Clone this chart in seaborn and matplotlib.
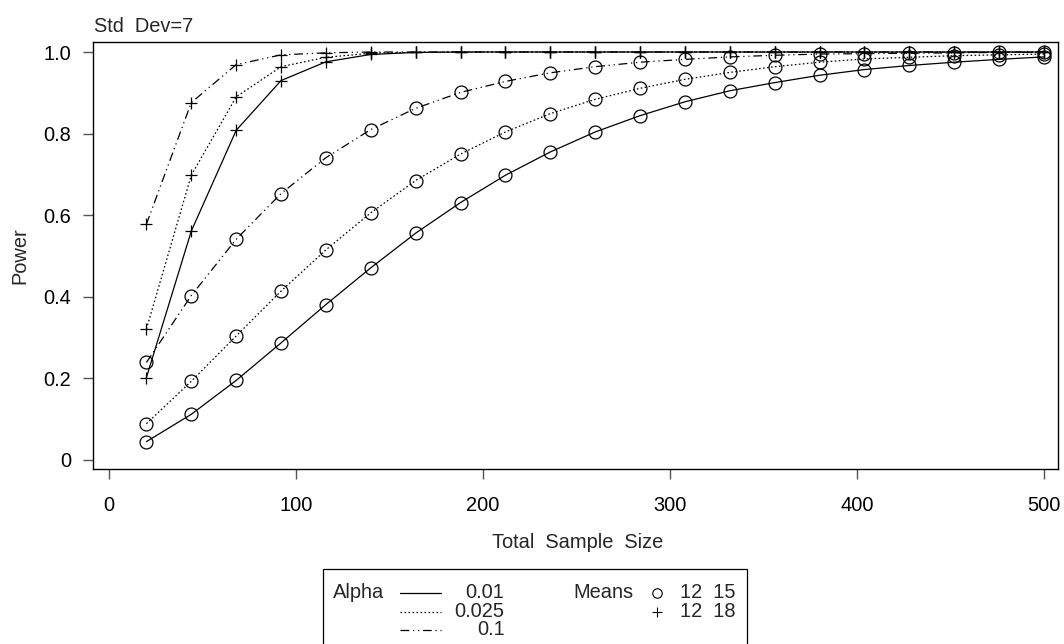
import matplotlib
matplotlib.use("Agg")
import matplotlib.pyplot as plt
import seaborn as sns
import pandas as pd
from matplotlib.lines import Line2D
from matplotlib.patches import Rectangle

# ---------------- data ----------------
sample_size = [20, 44, 68, 92, 116, 140, 164, 188, 212, 236, 260,
               284, 308, 332, 356, 380, 404, 428, 452, 476, 500]
alpha_levels = ["0.01", "0.025", "0.1"]
means_groups = ["12 15", "12 18"]

power_1215_a001 = [0.045, 0.112, 0.195, 0.287, 0.381, 0.471, 0.556, 0.631, 0.698, 0.755, 0.804,
                   0.844, 0.878, 0.905, 0.925, 0.943, 0.957, 0.967, 0.975, 0.982, 0.988]
power_1215_a0025 = [0.089, 0.193, 0.304, 0.414, 0.515, 0.606, 0.685, 0.750, 0.804, 0.849, 0.884,
                    0.911, 0.933, 0.950, 0.964, 0.975, 0.983, 0.987, 0.991, 0.993, 0.995]
power_1215_a010 = [0.239, 0.403, 0.541, 0.653, 0.741, 0.810, 0.862, 0.901, 0.928, 0.949, 0.964,
                   0.975, 0.982, 0.988, 0.992, 0.995, 0.996, 0.997, 0.998, 0.999, 0.999]
power_1218_a001 = [0.202, 0.561, 0.808, 0.930, 0.976, 0.994, 0.999, 1.000, 1.000, 1.000, 1.000,
                   1.000, 1.000, 1.000, 1.000, 1.000, 1.000, 1.000, 1.000, 1.000, 1.000]
power_1218_a0025 = [0.321, 0.698, 0.890, 0.964, 0.987, 0.997, 0.999, 1.000, 1.000, 1.000, 1.000,
                    1.000, 1.000, 1.000, 1.000, 1.000, 1.000, 1.000, 1.000, 1.000, 1.000]
power_1218_a010 = [0.578, 0.876, 0.969, 0.993, 0.998, 1.000, 1.000, 1.000, 1.000, 1.000, 1.000,
                   1.000, 1.000, 1.000, 1.000, 1.000, 1.000, 1.000, 1.000, 1.000, 1.000]

series = {
    ("12 15", "0.01"): power_1215_a001,
    ("12 15", "0.025"): power_1215_a0025,
    ("12 15", "0.1"): power_1215_a010,
    ("12 18", "0.01"): power_1218_a001,
    ("12 18", "0.025"): power_1218_a0025,
    ("12 18", "0.1"): power_1218_a010,
}

x_ticks = [0, 100, 200, 300, 400, 500]
y_ticks = [0, 0.2, 0.4, 0.6, 0.8, 1.0]
y_tick_labels = ["0", "0.2", "0.4", "0.6", "0.8", "1.0"]

rows = []
for (m, a), vals in series.items():
    for n, p in zip(sample_size, vals):
        rows.append({"N": n, "Power": p, "Alpha": a, "Means": m})
df = pd.DataFrame(rows)

# ---------------- style ----------------
sns.set_style("white")
plt.rcParams["font.family"] = ["Liberation Sans", "DejaVu Sans"]
FS = 14.4

W, H = 1064, 644
fig = plt.figure(figsize=(W / 100, H / 100), dpi=100)
L, R, T, B = 93.3, 1058.0, 42.3, 469.3
ax = fig.add_axes([L / W, 1 - B / H, (R - L) / W, (B - T) / H])

line_styles = {"0.01": "-", "0.025": (0, (1.3, 1.9)), "0.1": (0, (7, 3, 1, 3, 1, 3))}
marker_map = {"12 15": "o", "12 18": "+"}
marker_size = {"12 15": 9.3, "12 18": 8.5}

for (m, a), sub in df.groupby(["Means", "Alpha"]):
    sns.lineplot(data=sub, x="N", y="Power", ax=ax, color="black",
                 linestyle=line_styles[a], linewidth=0.9,
                 marker=marker_map[m], markersize=marker_size[m],
                 markerfacecolor="none", markeredgecolor="black",
                 markeredgewidth=0.9, errorbar=None, legend=False)

ax.set_xlim(-8.4, 507.5)
ax.set_ylim(-0.0228, 1.0238)
ax.set_xticks(x_ticks)
ax.set_xticklabels([str(v) for v in x_ticks])
ax.set_yticks(y_ticks)
ax.set_yticklabels(y_tick_labels)
ax.tick_params(axis="both", which="major", bottom=True, left=True, top=False, right=False,
               direction="out", length=7.5, width=1.0,
               color="#555555", labelsize=FS, labelcolor="black")
ax.tick_params(axis="x", pad=12.0)
ax.tick_params(axis="y", pad=8.5)
for sp in ax.spines.values():
    sp.set_visible(True)
    sp.set_color("black")
    sp.set_linewidth(1.0)
ax.set_xlabel("")
ax.set_ylabel("Power", fontsize=FS)
ax.yaxis.set_label_coords(-0.066, 0.5)

fig.text(578 / W, 1 - 548.3 / H, "Total  Sample  Size", ha="center", va="baseline", fontsize=FS)
fig.text(94 / W, 1 - 32.3 / H, "Std  Dev=7", ha="left", va="baseline", fontsize=FS)

# ---------------- legend ----------------
def fx(px):
    return px / W

def fy(py):
    return 1 - py / H

fig.add_artist(Rectangle((fx(322.7), fy(700)), fx(746.7) - fx(322.7), fy(569) - fy(700),
                         transform=fig.transFigure, fill=False, ec="black", lw=0.9))
row_base = [598.3, 616.7, 635.0]
fig.text(fx(333), fy(row_base[0]), "Alpha", ha="left", va="baseline", fontsize=FS)
for i, a in enumerate(alpha_levels):
    yl = row_base[i] - 5.0
    fig.add_artist(Line2D([fx(400), fx(441)], [fy(yl), fy(yl)], transform=fig.transFigure,
                          color="black", lw=0.9, linestyle=line_styles[a]))
    fig.text(fx(504.5), fy(row_base[i]), a, ha="right", va="baseline", fontsize=FS)
fig.text(fx(573), fy(row_base[0]), "Means", ha="left", va="baseline", fontsize=FS)
for i, m in enumerate(means_groups):
    yl = row_base[i] - 5.0
    fig.add_artist(Line2D([fx(657)], [fy(yl)], transform=fig.transFigure, linestyle="none",
                          marker=marker_map[m], markersize=6.8 if m == "12 15" else 7.5,
                          markerfacecolor="none", markeredgecolor="black", markeredgewidth=0.8))
    fig.text(fx(735.5), fy(row_base[i]), m.replace(" ", "  "), ha="right", va="baseline", fontsize=FS)

fig.savefig("out.png", dpi=100)
